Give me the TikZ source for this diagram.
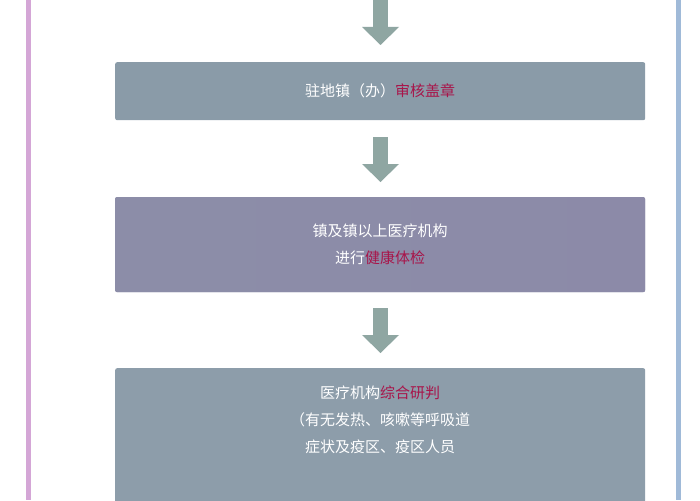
\documentclass[tikz,border=0pt]{standalone}
\usepackage{fontspec}
\setmainfont{Noto Sans CJK SC}
\begin{document}
\begin{tikzpicture}[x=1pt,y=-1pt,
  boxa/.style={rounded corners=2pt,fill=#1,draw=none},
  arr/.style={fill=arrowc,draw=none},
  txt/.style={text=white,font=\fontsize{15}{27}\selectfont,align=center}]
\definecolor{arrowc}{HTML}{8FA6A2}
\definecolor{hl}{HTML}{A8154A}
\definecolor{b1}{HTML}{8A9BA8}
\definecolor{b2}{HTML}{8C8AA8}
\definecolor{b3}{HTML}{8D9DAA}
\definecolor{lb}{HTML}{D4A6D6}
\definecolor{rb}{HTML}{A0BAD8}
\useasboundingbox (0,0) rectangle (700,500);
\fill[white] (0,0) rectangle (700,500);
\fill[lb] (26,0) rectangle (31,500);
\fill[rb] (676,0) rectangle (681,500);
% arrows
\foreach \t in {0,137,308}{
  \fill[arr] (373,\t) rectangle (388,\t+27);
  \fill[arr] (362,\t+27) -- (399,\t+27) -- (380.5,\t+45) -- cycle;
}
\node[boxa=b1,minimum width=530,minimum height=58,anchor=north west] (n1) at (115,62) {};
\node[txt] at (n1.center) {驻地镇（办）\textcolor{hl}{审核盖章}};
\node[boxa=b2,minimum width=530,minimum height=95,anchor=north west] (n2) at (115,197) {};
\shade[left color=b2!80!b1, right color=b2,rounded corners=2pt] (115,197) rectangle (645,292);
\node[txt] at (n2.center) {镇及镇以上医疗机构\\进行\textcolor{hl}{健康体检}};
\node[boxa=b3,minimum width=530,minimum height=140,anchor=north west] (n3) at (115,368) {};
\node[txt,anchor=north] at (380,382) {医疗机构\textcolor{hl}{综合研判}\\（有无发热、咳嗽等呼吸道\\症状及疫区、疫区人员};
\end{tikzpicture}
\end{document}
